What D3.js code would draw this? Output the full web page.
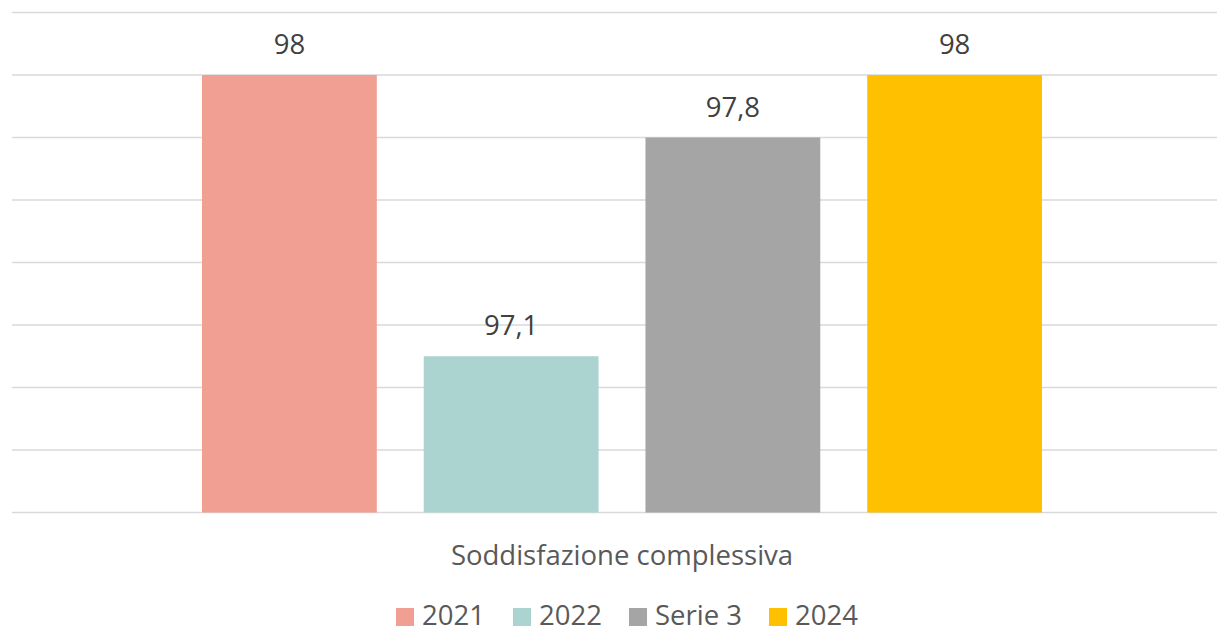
<!DOCTYPE html>
<html>
<head>
<meta charset="utf-8">
<script src="https://cdn.jsdelivr.net/npm/d3@7"></script>
<style>
  html, body { margin: 0; padding: 0; background: #fff; overflow: hidden; }
  svg { display: block; font-family: "Open Sans", "Noto Sans", sans-serif; }
</style>
</head>
<body>
<svg id="chart" width="1217" height="628"></svg>
<script>
// Chart data
const category = "Soddisfazione complessiva";
const seriesNames = ["2021", "2022", "Serie 3", "2024"];
const seriesValues = [98, 97.1, 97.8, 98];
const seriesColors = ["#f19e93", "#abd3cf", "#a5a5a5", "#ffc000"];
const yTicks = [96.6, 96.8, 97.0, 97.2, 97.4, 97.6, 97.8, 98.0, 98.2];

const svg = d3.select("#chart");

const plot = { left: 12, right: 1217, top: 12.5, bottom: 512.5 };

const y = d3.scaleLinear()
  .domain([96.6, 98.2])
  .range([plot.bottom, plot.top]);

const x = d3.scaleBand()
  .domain(seriesNames)
  .range([202, 1042])
  .paddingInner(0.2117)
  .paddingOuter(0);

// Horizontal gridlines
svg.append("g")
  .selectAll("line")
  .data(yTicks)
  .join("line")
  .attr("x1", plot.left)
  .attr("x2", plot.right)
  .attr("y1", d => y(d))
  .attr("y2", d => y(d))
  .attr("stroke", "#d9d9d9")
  .attr("stroke-width", 1.5);

const data = seriesNames.map((s, i) => ({ name: s, value: seriesValues[i], color: seriesColors[i] }));

// Bars
svg.append("g")
  .selectAll("rect")
  .data(data)
  .join("rect")
  .attr("x", d => x(d.name))
  .attr("width", x.bandwidth())
  .attr("y", d => y(d.value))
  .attr("height", d => y(96.6) - y(d.value))
  .attr("fill", d => d.color);

// Value labels
const fmt = v => String(v).replace(".", ",");
svg.append("g")
  .selectAll("text")
  .data(data)
  .join("text")
  .attr("x", d => x(d.name) + x.bandwidth() / 2)
  .attr("y", d => y(d.value) - 21)
  .attr("text-anchor", "middle")
  .attr("font-size", 27.5)
  .attr("fill", "#404040")
  .text(d => fmt(d.value));

// Category label
svg.append("text")
  .attr("x", 622)
  .attr("y", 565)
  .attr("text-anchor", "middle")
  .attr("font-size", 27.5)
  .attr("fill", "#595959")
  .text(category);

// Legend
const legendX = [396, 513, 629, 769];
const legend = svg.append("g");
data.forEach((d, i) => {
  legend.append("rect")
    .attr("x", legendX[i])
    .attr("y", 608)
    .attr("width", 18)
    .attr("height", 18)
    .attr("fill", d.color);
  legend.append("text")
    .attr("x", legendX[i] + 26)
    .attr("y", 625)
    .attr("font-size", 27.5)
    .attr("fill", "#595959")
    .text(d.name);
});
</script>
</body>
</html>
